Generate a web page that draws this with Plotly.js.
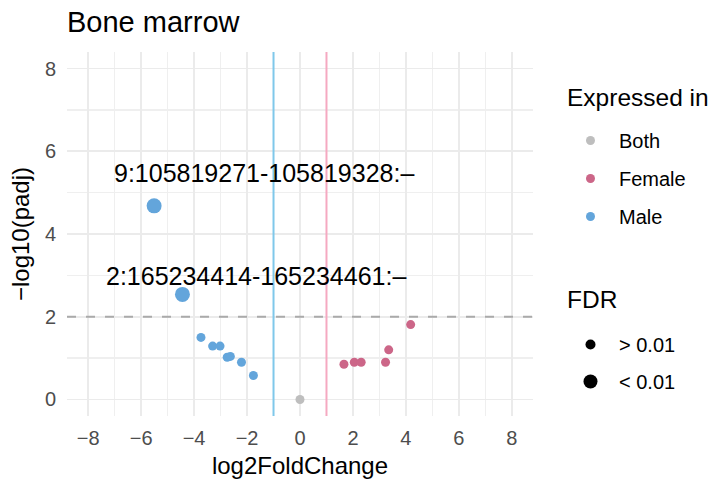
<!DOCTYPE html>
<html>
<head>
<meta charset="utf-8">
<script src="https://cdn.plot.ly/plotly-3.0.1.min.js"></script>
<style>html,body{margin:0;padding:0;background:#fff;}#chart{width:715px;height:480px;}</style>
</head>
<body>
<div id="chart"></div>
<script>
// ---- data ----
const maleLFC   = [-5.51, -4.44, -3.74, -3.30, -3.02, -2.75, -2.63, -2.21, -1.76];
const malePadj  = [4.68, 2.54, 1.50, 1.29, 1.29, 1.02, 1.04, 0.90, 0.58];
const femaleLFC = [1.66, 2.05, 2.31, 3.23, 3.35, 4.18];
const femalePadj= [0.85, 0.90, 0.90, 0.90, 1.20, 1.81];
const bothLFC   = [0.0];
const bothPadj  = [0.0];
const labelText = ["9:105819271-105819328:–", "2:165234414-165234461:–"];
const labelIdx  = [0, 1];           // which male points are labelled
const groups    = ["Both", "Female", "Male"];
const fdrLevels = ["> 0.01", "< 0.01"];
const xTicks = [-8, -6, -4, -2, 0, 2, 4, 6, 8];
const yTicks = [0, 2, 4, 6, 8];
const fcCut = 1, padjCut = 2;

// ---- styles ----
const colors = {Both: "#BEBEBE", Female: "#CC6688", Male: "#63A5DB"};
const smallSize = 9, bigSize = 15;
const sz = ys => ys.map(v => v > padjCut ? bigSize : smallSize);
const FONT = "Liberation Sans, Arial, Helvetica, sans-serif";

const traces = [];
const series = {Both: [bothLFC, bothPadj], Female: [femaleLFC, femalePadj], Male: [maleLFC, malePadj]};
groups.forEach(g => {
  traces.push({
    type: "scatter", mode: "markers", x: series[g][0], y: series[g][1],
    marker: {color: colors[g], size: sz(series[g][1]), opacity: 1, line: {width: 0}},
    showlegend: false, hoverinfo: "x+y"
  });
});
// legend entries
groups.forEach((g, i) => {
  traces.push({
    type: "scatter", mode: "markers", x: [null], y: [null], name: g,
    marker: {color: colors[g], size: 9, opacity: 1}, legend: "legend", legendgroup: "g" + i, showlegend: true
  });
});
fdrLevels.forEach((f, i) => {
  traces.push({
    type: "scatter", mode: "markers", x: [null], y: [null], name: f,
    marker: {color: "#000000", size: i === 0 ? 10 : 14, opacity: 1}, legend: "legend2", legendgroup: "f" + i, showlegend: true
  });
});

const annotations = labelIdx.map((k, i) => ({
  x: maleLFC[k], y: malePadj[k], text: labelText[i], showarrow: false,
  xshift: [110, 74][i], yshift: [33, 18][i],
  font: {family: FONT, size: 25, color: "#000"}, xanchor: "center", yanchor: "middle"
}));
// legend titles
annotations.push(
  {xref: "paper", yref: "paper", x: (565 - 67) / 466, y: (416 - 97) / 364, text: "Expressed in", showarrow: false,
   xanchor: "left", yanchor: "middle", font: {family: FONT, size: 24.5, color: "#000"}},
  {xref: "paper", yref: "paper", x: (565 - 67) / 466, y: (416 - 299) / 364, text: "FDR", showarrow: false,
   xanchor: "left", yanchor: "middle", font: {family: FONT, size: 24.5, color: "#000"}}
);

const layout = {
  width: 715, height: 480,
  margin: {l: 67, r: 182, t: 52, b: 64, autoexpand: false},
  paper_bgcolor: "#fff", plot_bgcolor: "#fff",
  font: {family: FONT, color: "#000"},
  title: {text: "Bone marrow", font: {family: FONT, size: 29, color: "#000"},
          x: 67 / 715, xref: "container", xanchor: "left", y: 1 - 22 / 480, yref: "container", yanchor: "middle"},
  xaxis: {
    range: [-8.8, 8.8], tickvals: xTicks, zeroline: false,
    showgrid: true, gridcolor: "#EBEBEB", gridwidth: 1.6,
    minor: {dtick: 1, tick0: 1, showgrid: true, gridcolor: "#EFEFEF", gridwidth: 1.2},
    showline: false, ticks: "", tickfont: {family: FONT, size: 20, color: "#4D4D4D"},
    ticklabelstandoff: 8,
    title: {text: "log2FoldChange", font: {family: FONT, size: 24, color: "#000"}, standoff: 9}
  },
  yaxis: {
    range: [-0.4, 8.4], tickvals: yTicks, zeroline: false,
    showgrid: true, gridcolor: "#EBEBEB", gridwidth: 1.6,
    minor: {dtick: 1, tick0: 1, showgrid: true, gridcolor: "#EFEFEF", gridwidth: 1.2},
    showline: false, ticks: "", tickfont: {family: FONT, size: 20, color: "#4D4D4D"},
    ticklabelstandoff: 10,
    title: {text: "−log10(padj)", font: {family: FONT, size: 24, color: "#000"}, standoff: 8}
  },
  shapes: [
    {type: "line", xref: "x", yref: "paper", x0: -fcCut, x1: -fcCut, y0: 0, y1: 1, line: {color: "#7FC8EA", width: 2}},
    {type: "line", xref: "x", yref: "paper", x0: fcCut, x1: fcCut, y0: 0, y1: 1, line: {color: "#F5A9C1", width: 2}},
    {type: "line", xref: "paper", yref: "y", x0: 0, x1: 1, y0: padjCut, y1: padjCut, line: {color: "#AAAAAA", width: 2, dash: "9px,10px"}}
  ],
  annotations: annotations,
  legend: {
    x: (562 - 67) / 466, xanchor: "left", y: (416 - 121) / 364, yanchor: "top",
    font: {family: FONT, size: 20, color: "#000"}, traceorder: "grouped", tracegroupgap: 9,
    itemsizing: "trace", itemwidth: 47, bgcolor: "rgba(0,0,0,0)"
  },
  legend2: {
    x: (562 - 67) / 466, xanchor: "left", y: (416 - 325) / 364, yanchor: "top",
    font: {family: FONT, size: 20, color: "#000"}, traceorder: "grouped", tracegroupgap: 8,
    itemsizing: "trace", itemwidth: 47, bgcolor: "rgba(0,0,0,0)"
  },
  hovermode: "closest"
};

Plotly.newPlot("chart", traces, layout, {displayModeBar: false, staticPlot: true});
</script>
</body>
</html>
